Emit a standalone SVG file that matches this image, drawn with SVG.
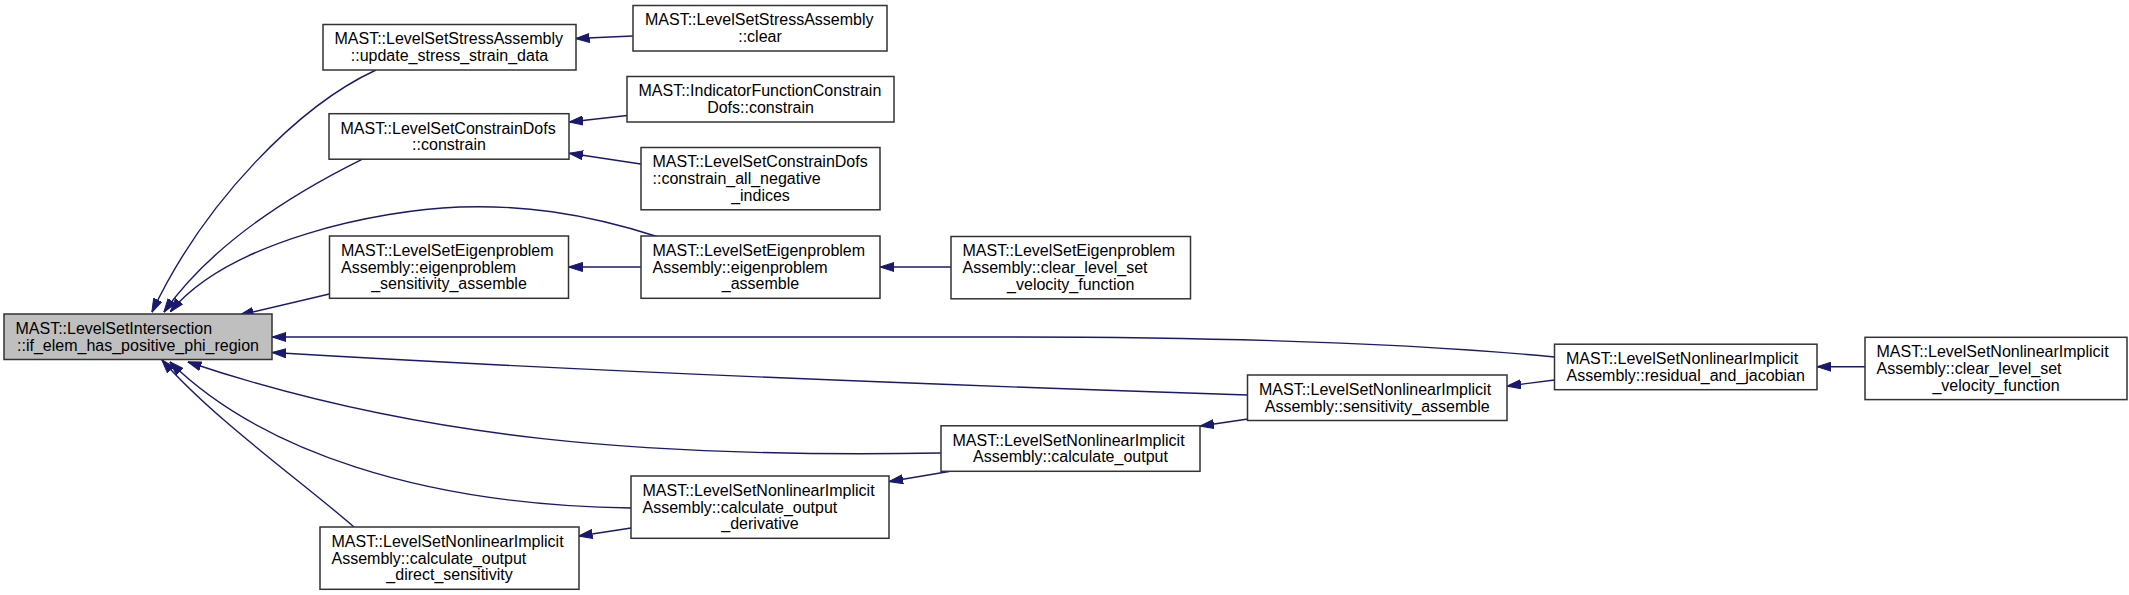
<svg xmlns="http://www.w3.org/2000/svg" width="2129" height="595" viewBox="0 0 2129 595">
<style>
.n rect{fill:#ffffff;stroke:#333333;stroke-width:1.5}
.n.main rect{fill:#bfbfbf}
.n text{font-family:"Liberation Sans",Arial,Helvetica,sans-serif;font-size:16px;fill:#000000}
.n text.c{text-anchor:middle}
#edges path{fill:none;stroke:#191970;stroke-width:1.4;marker-end:url(#ah)}
</style>
<defs>
<marker id="ah" viewBox="0 0 14 10" refX="13.5" refY="5" markerWidth="14" markerHeight="10" markerUnits="userSpaceOnUse" orient="auto">
<path d="M0,0.5 L14,5 L0,9.5 z" fill="#191970" stroke="#191970" stroke-width="1"/>
</marker>
</defs>
<rect x="0" y="0" width="2129" height="595" fill="#ffffff"/>
<g id="edges">
<path d="M376,70 C300,105 205,200 152,312"/>
<path d="M632.7,36 L576,38.5"/>
<path d="M362,159.3 C300,190 215,240 164,312"/>
<path d="M627,115.5 L569.5,122"/>
<path d="M640.7,164 L569.5,153.3"/>
<path d="M657,236.5 C580,212 520,205 459,207 C380,210 230,240 170.5,311.5"/>
<path d="M329.3,294 L240,315"/>
<path d="M640.7,267 L569,267"/>
<path d="M951,267 L880.5,267"/>
<path d="M1554.5,357 C1420,344 1250,337 1000,337 L272.5,337"/>
<path d="M1247.5,395 C1000,387 600,372 272.5,352.5"/>
<path d="M941,453 C650,458 420,440 188,362"/>
<path d="M631,508 C420,505 260,450 170,362"/>
<path d="M354,527 C300,480 215,420 162,360"/>
<path d="M1248,419 L1200.5,426"/>
<path d="M949,471.5 L889.5,481.5"/>
<path d="M631,528 L579,536"/>
<path d="M1554.5,380 L1507.5,386"/>
<path d="M1865,366.7 L1817.5,366.7"/>
</g>
<g id="node0" class="n main">
<rect x="4" y="314" width="268" height="45.5"/>
<text x="15.5" y="334">MAST::LevelSetIntersection</text>
<text class="c" x="138" y="350.7">::if_elem_has_positive_phi_region</text>
</g>
<g id="node1" class="n">
<rect x="323" y="24.5" width="253" height="45.5"/>
<text x="334.5" y="44.3">MAST::LevelSetStressAssembly</text>
<text class="c" x="449.5" y="61.1">::update_stress_strain_data</text>
</g>
<g id="node2" class="n">
<rect x="633" y="5.5" width="254" height="45.5"/>
<text x="645" y="25.3">MAST::LevelSetStressAssembly</text>
<text class="c" x="760" y="42.1">::clear</text>
</g>
<g id="node3" class="n">
<rect x="627" y="76.5" width="267" height="45.5"/>
<text x="638.5" y="96.3">MAST::IndicatorFunctionConstrain</text>
<text class="c" x="760.5" y="113.1">Dofs::constrain</text>
</g>
<g id="node4" class="n">
<rect x="329" y="113.7" width="240" height="45.5"/>
<text x="340.5" y="133.5">MAST::LevelSetConstrainDofs</text>
<text class="c" x="449" y="150.3">::constrain</text>
</g>
<g id="node5" class="n">
<rect x="641" y="147.5" width="239" height="62.3"/>
<text x="652.5" y="167.3">MAST::LevelSetConstrainDofs</text>
<text x="652.5" y="184.1">::constrain_all_negative</text>
<text class="c" x="760.5" y="200.9">_indices</text>
</g>
<g id="node6" class="n">
<rect x="641" y="236" width="239" height="62.3"/>
<text x="652.5" y="255.8">MAST::LevelSetEigenproblem</text>
<text x="652.5" y="272.6">Assembly::eigenproblem</text>
<text class="c" x="760.5" y="289.4">_assemble</text>
</g>
<g id="node7" class="n">
<rect x="329.5" y="236" width="239" height="62.3"/>
<text x="341" y="255.8">MAST::LevelSetEigenproblem</text>
<text x="341" y="272.6">Assembly::eigenproblem</text>
<text class="c" x="449" y="289.4">_sensitivity_assemble</text>
</g>
<g id="node8" class="n">
<rect x="951" y="236.5" width="239.5" height="62.3"/>
<text x="962.5" y="256.3">MAST::LevelSetEigenproblem</text>
<text x="962.5" y="273.1">Assembly::clear_level_set</text>
<text class="c" x="1070.7" y="289.9">_velocity_function</text>
</g>
<g id="node9" class="n">
<rect x="1554.5" y="344.2" width="262.5" height="45.5"/>
<text x="1566" y="364">MAST::LevelSetNonlinearImplicit</text>
<text class="c" x="1685.7" y="380.8">Assembly::residual_and_jacobian</text>
</g>
<g id="node10" class="n">
<rect x="1865" y="337.3" width="262" height="62.3"/>
<text x="1876.5" y="357.1">MAST::LevelSetNonlinearImplicit</text>
<text x="1876.5" y="373.9">Assembly::clear_level_set</text>
<text class="c" x="1996" y="390.7">_velocity_function</text>
</g>
<g id="node11" class="n">
<rect x="1247.5" y="375" width="259.5" height="45.5"/>
<text x="1259" y="394.8">MAST::LevelSetNonlinearImplicit</text>
<text class="c" x="1377.2" y="411.6">Assembly::sensitivity_assemble</text>
</g>
<g id="node12" class="n">
<rect x="941" y="425.8" width="259" height="45.5"/>
<text x="952.5" y="445.6">MAST::LevelSetNonlinearImplicit</text>
<text class="c" x="1070.5" y="462.4">Assembly::calculate_output</text>
</g>
<g id="node13" class="n">
<rect x="631" y="476" width="258" height="62.3"/>
<text x="642.5" y="495.8">MAST::LevelSetNonlinearImplicit</text>
<text x="642.5" y="512.6">Assembly::calculate_output</text>
<text class="c" x="760" y="529.4">_derivative</text>
</g>
<g id="node14" class="n">
<rect x="320" y="527" width="259" height="62.3"/>
<text x="331.5" y="546.8">MAST::LevelSetNonlinearImplicit</text>
<text x="331.5" y="563.6">Assembly::calculate_output</text>
<text class="c" x="449.5" y="580.4">_direct_sensitivity</text>
</g>
</svg>
